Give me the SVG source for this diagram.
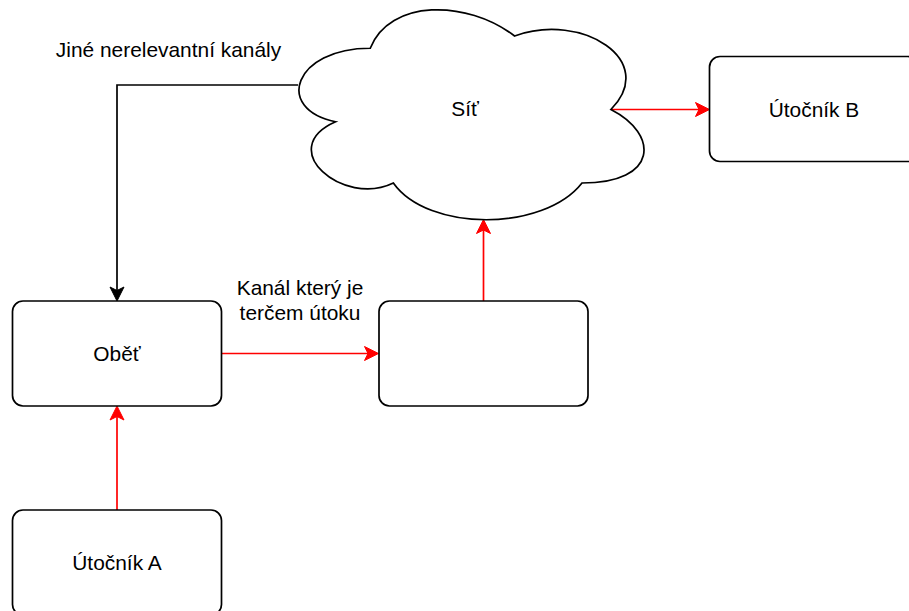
<svg xmlns="http://www.w3.org/2000/svg" width="909" height="611" viewBox="0 0 909 611">
  <style>
    .box { fill: #ffffff; stroke: #000000; stroke-width: 1.7; }
    .lbl { font-family: "Liberation Sans", Helvetica, Arial, sans-serif; font-size: 20.9px; fill: #000000; text-anchor: middle; }
    .edge { fill: none; stroke-width: 1.7; }
    .black { stroke: #000000; }
    .red { stroke: #ff0000; }
  </style>
  <defs>
    <marker id="arrow-black" viewBox="-15 -8 16 16" markerWidth="16" markerHeight="16" refX="-10" refY="0" orient="auto" markerUnits="userSpaceOnUse">
      <path d="M0,0 L-14,-7 L-10.5,0 L-14,7 Z" fill="#000000" stroke="#000000" stroke-width="1"/>
    </marker>
    <marker id="arrow-red" viewBox="-15 -8 16 16" markerWidth="16" markerHeight="16" refX="-10" refY="0" orient="auto" markerUnits="userSpaceOnUse">
      <path d="M0,0 L-14,-7 L-10.5,0 L-14,7 Z" fill="#ff0000" stroke="#ff0000" stroke-width="1"/>
    </marker>
  </defs>
  <rect width="909" height="611" fill="#ffffff"/>

  <!-- connectors -->
  <g id="connectors">
    <path class="edge black" d="M298,85 H117 V291" marker-end="url(#arrow-black)"/>
    <path class="edge red" d="M221.5,353.5 H368.5" marker-end="url(#arrow-red)"/>
    <path class="edge red" d="M483.5,301 V229.5" marker-end="url(#arrow-red)"/>
    <path class="edge red" d="M611,109.5 H699.5" marker-end="url(#arrow-red)"/>
    <path class="edge red" d="M117,510 V416" marker-end="url(#arrow-red)"/>
    <text class="lbl" x="168.5" y="56.5">Jiné nerelevantní kanály</text>
    <text class="lbl" x="300" y="295">Kanál který je</text>
    <text class="lbl" x="300" y="320">terčem útoku</text>
  </g>

  <!-- network cloud -->
  <g id="sit">
    <path class="box" d="M370.25,48.25 C293.25,48.25 274,109.5 335.6,121.75 C274,148.7 343.3,207.5 393.35,183 C428,232 543.5,232 582,183 C659,183 659,134 610.9,109.5 C659,60.5 582,11.5 514.6,36 C466.5,-0.75 389.5,-0.75 370.25,48.25 Z"/>
    <text class="lbl" x="465" y="116">Síť</text>
  </g>

  <g id="utocnik-b">
    <rect class="box" x="709.5" y="56.5" width="209" height="105" rx="10.5"/>
    <text class="lbl" x="814" y="116.5">Útočník B</text>
  </g>

  <g id="obet">
    <rect class="box" x="12.5" y="301" width="209" height="105" rx="10.5"/>
    <text class="lbl" x="117" y="361">Oběť</text>
  </g>

  <g id="kanal">
    <rect class="box" x="379" y="301" width="209" height="105" rx="10.5"/>
  </g>

  <g id="utocnik-a">
    <rect class="box" x="12.5" y="510" width="209" height="105" rx="10.5"/>
    <text class="lbl" x="117" y="570">Útočník A</text>
  </g>
</svg>
